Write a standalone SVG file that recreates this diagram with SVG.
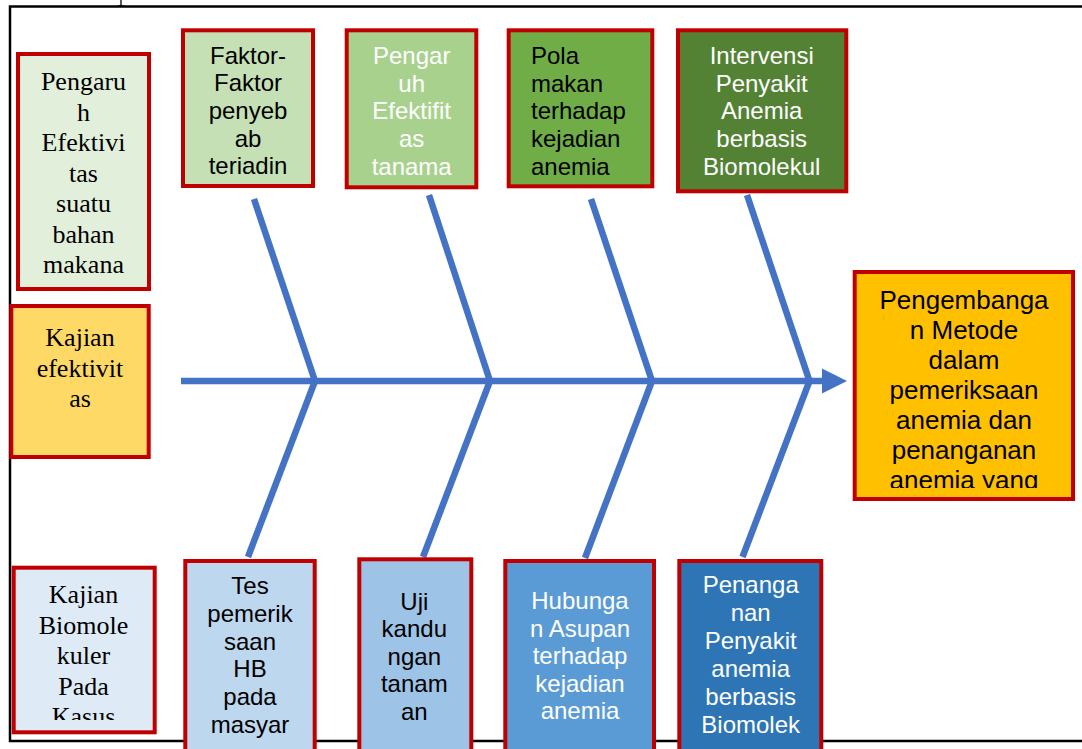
<svg xmlns="http://www.w3.org/2000/svg" width="1082" height="749" viewBox="0 0 1082 749">
<style>
.box{stroke:#C00000;stroke-width:4}
.serif{font-family:"Liberation Serif","Times New Roman",serif;font-size:26px;fill:#000;text-anchor:middle}
.sans{font-family:"Liberation Sans",Arial,sans-serif;font-size:24px;text-anchor:middle}
.big{font-family:"Liberation Sans",Arial,sans-serif;font-size:26px;text-anchor:middle;fill:#000}
.blk{fill:#000}
.wht{fill:#fff}
.bone{stroke:#4472C4;stroke-width:6.5;fill:none;stroke-linecap:butt}
.frame{stroke:#000;stroke-width:2.5;fill:none}
</style>
<defs>
<clipPath id="clipBig"><rect x="856" y="274" width="215" height="214"/></clipPath>
<clipPath id="clipKasus"><rect x="15" y="569" width="138" height="151"/></clipPath>
</defs>
<rect x="0" y="0" width="1082" height="749" fill="#fff"/>
<g id="frame">
<path d="M121 0V6M118 6H124" stroke="#000" stroke-width="1.3" fill="none"/>
<path class="frame" d="M1082 6.5H10V741H1082"/>
</g>
<g id="connectors">
<line class="bone" x1="181" y1="381" x2="824" y2="381"/>
<polygon points="822,368.5 847,381 822,393.5" fill="#4472C4"/>
<line class="bone" x1="254" y1="199" x2="315" y2="381"/>
<line class="bone" x1="429" y1="195" x2="490" y2="381"/>
<line class="bone" x1="591" y1="199" x2="652" y2="381"/>
<line class="bone" x1="747" y1="195" x2="809.5" y2="381"/>
<line class="bone" x1="315" y1="381" x2="248" y2="557"/>
<line class="bone" x1="490" y1="381" x2="423" y2="557"/>
<line class="bone" x1="652" y1="381" x2="585" y2="558"/>
<line class="bone" x1="809.5" y1="381" x2="742.5" y2="557"/>
</g>
<g id="n-pengaruh">
<rect class="box" x="18" y="54" width="131" height="235" fill="#E2EFDA"/>
<text class="serif"><tspan x="83.5" y="90">Pengaru</tspan><tspan x="83.5" y="120.5">h</tspan><tspan x="83.5" y="151">Efektivi</tspan><tspan x="83.5" y="181.5">tas</tspan><tspan x="83.5" y="212">suatu</tspan><tspan x="83.5" y="242.5">bahan</tspan><tspan x="83.5" y="273">makana</tspan></text>
</g>
<g id="n-faktor">
<rect class="box" x="183" y="30.3" width="130" height="155.7" fill="#C5E0B4"/>
<text class="sans blk"><tspan x="248" y="63.5">Faktor-</tspan><tspan x="248" y="91.2">Faktor</tspan><tspan x="248" y="118.9">penyeb</tspan><tspan x="248" y="146.6">ab</tspan><tspan x="248" y="174.3">teriadin</tspan></text>
</g>
<g id="n-pengar">
<rect class="box" x="346.7" y="30.3" width="129.6" height="157" fill="#A9D18E"/>
<text class="sans wht"><tspan x="411.7" y="64">Pengar</tspan><tspan x="411.7" y="91.7">uh</tspan><tspan x="411.7" y="119.4">Efektifit</tspan><tspan x="411.7" y="147.1">as</tspan><tspan x="411.7" y="174.6">tanama</tspan></text>
</g>
<g id="n-pola">
<rect class="box" x="508.7" y="30.3" width="143.6" height="156" fill="#70AD47"/>
<text class="sans blk" style="text-anchor:start"><tspan x="531" y="64">Pola</tspan><tspan x="531" y="91.7">makan</tspan><tspan x="531" y="119.4">terhadap</tspan><tspan x="531" y="147.1">kejadian</tspan><tspan x="531" y="174.6">anemia</tspan></text>
</g>
<g id="n-intervensi">
<rect class="box" x="678" y="30.3" width="168.3" height="161" fill="#548235"/>
<text class="sans wht"><tspan x="761.7" y="64">Intervensi</tspan><tspan x="761.7" y="91.7">Penyakit</tspan><tspan x="761.7" y="119.4">Anemia</tspan><tspan x="761.7" y="147.1">berbasis</tspan><tspan x="761.7" y="174.6">Biomolekul</tspan></text>
</g>
<g id="n-pengembangan">
<rect class="box" x="854.7" y="272" width="218.3" height="227" fill="#FFC000"/>
<text class="big" clip-path="url(#clipBig)"><tspan x="964" y="309.3">Pengembanga</tspan><tspan x="964" y="339.3">n Metode</tspan><tspan x="964" y="369.3">dalam</tspan><tspan x="964" y="399.3">pemeriksaan</tspan><tspan x="964" y="429.3">anemia dan</tspan><tspan x="964" y="459.3">penanganan</tspan><tspan x="964" y="489.3">anemia yang</tspan></text>
</g>
<g id="n-kajian-efektivitas">
<rect class="box" x="11.3" y="306" width="137.4" height="151" fill="#FFD966"/>
<text class="serif"><tspan x="80" y="346">Kajian</tspan><tspan x="80" y="376.5">efektivit</tspan><tspan x="80" y="407">as</tspan></text>
</g>
<g id="n-kajian-biomolekuler">
<rect class="box" x="13.7" y="567.7" width="141" height="164.6" fill="#DEEBF7"/>
<text class="serif" clip-path="url(#clipKasus)"><tspan x="83.5" y="603.3">Kajian</tspan><tspan x="83.5" y="633.8">Biomole</tspan><tspan x="83.5" y="664.3">kuler</tspan><tspan x="83.5" y="694.8">Pada</tspan><tspan x="83.5" y="725.3">Kasus</tspan></text>
</g>
<g id="n-tes">
<rect class="box" x="185.3" y="561" width="129.4" height="200" fill="#BDD7EE"/>
<text class="sans blk"><tspan x="250" y="594.3">Tes</tspan><tspan x="250" y="622">pemerik</tspan><tspan x="250" y="649.7">saan</tspan><tspan x="250" y="677.4">HB</tspan><tspan x="250" y="705.1">pada</tspan><tspan x="250" y="732.8">masyar</tspan></text>
</g>
<g id="n-uji">
<rect class="box" x="359.3" y="559.3" width="112" height="200" fill="#9DC3E6"/>
<text class="sans blk"><tspan x="414.3" y="610">Uji</tspan><tspan x="414.3" y="637.4">kandu</tspan><tspan x="414.3" y="664.8">ngan</tspan><tspan x="414.3" y="692.2">tanam</tspan><tspan x="414.3" y="719.6">an</tspan></text>
</g>
<g id="n-hubungan">
<rect class="box" x="505.3" y="561" width="148.7" height="200" fill="#5B9BD5"/>
<text class="sans wht"><tspan x="580" y="609.3">Hubunga</tspan><tspan x="580" y="636.8">n Asupan</tspan><tspan x="580" y="664.3">terhadap</tspan><tspan x="580" y="691.8">kejadian</tspan><tspan x="580" y="719.3">anemia</tspan></text>
</g>
<g id="n-penanganan">
<rect class="box" x="679.3" y="561" width="142" height="200" fill="#2E75B6"/>
<text class="sans wht"><tspan x="750.7" y="593.3">Penanga</tspan><tspan x="750.7" y="621.2">nan</tspan><tspan x="750.7" y="649.1">Penyakit</tspan><tspan x="750.7" y="677">anemia</tspan><tspan x="750.7" y="704.9">berbasis</tspan><tspan x="750.7" y="732.8">Biomolek</tspan></text>
</g>
</svg>
